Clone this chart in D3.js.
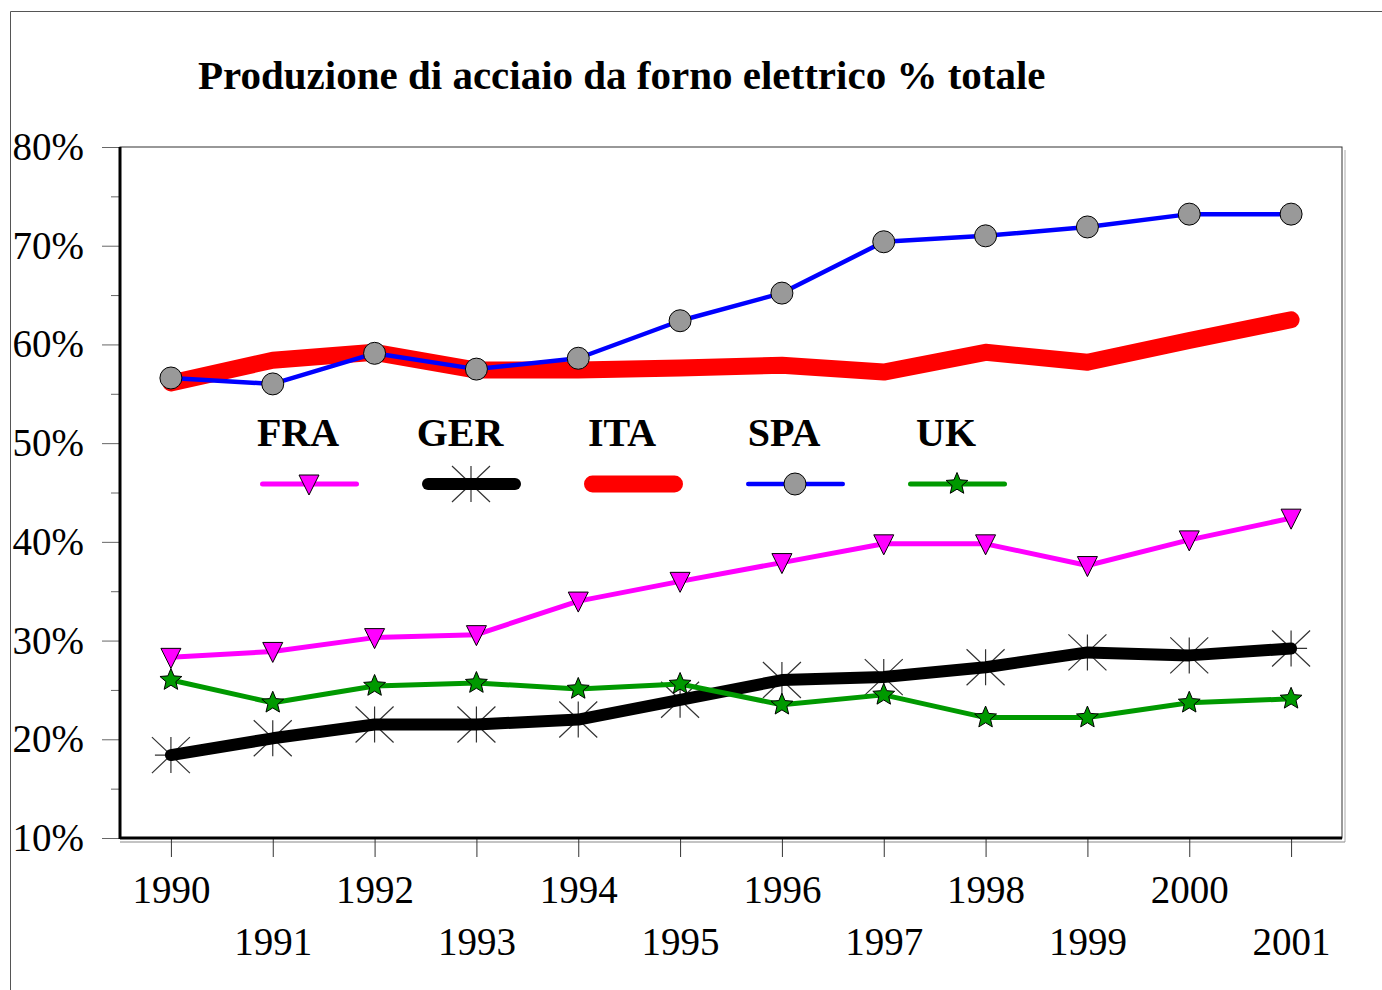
<!DOCTYPE html>
<html>
<head>
<meta charset="utf-8">
<script src="https://cdn.jsdelivr.net/npm/d3@7"></script>
<style>
  body { margin: 0; background: #fff; }
  svg { display: block; font-family: "Liberation Serif", "Times New Roman", serif; }
</style>
</head>
<body>
<svg id="chart" width="1382" height="990"></svg>
<script>
// dati
var anni = [1990, 1991, 1992, 1993, 1994, 1995, 1996, 1997, 1998, 1999, 2000, 2001]
var paesi = ["FRA", "GER", "ITA", "SPA", "UK"]
var fra = [28.3, 28.9, 30.3, 30.6, 34.0, 36.0, 37.9, 39.8, 39.8, 37.6, 40.2, 42.4]
var ger = [18.4, 20.1, 21.5, 21.5, 22.0, 24.0, 26.0, 26.3, 27.3, 28.8, 28.5, 29.2]
var ita = [56.1, 58.4, 59.2, 57.4, 57.4, 57.6, 57.9, 57.2, 59.2, 58.2, 60.4, 62.5]
var spa = [56.6, 56.0, 59.1, 57.5, 58.6, 62.4, 65.2, 70.4, 71.0, 71.9, 73.2, 73.2]
var uk  = [26.0, 23.7, 25.4, 25.7, 25.1, 25.6, 23.5, 24.5, 22.2, 22.2, 23.7, 24.1]
var y_ticks = [10, 20, 30, 40, 50, 60, 70, 80]
var y_minor = [15, 25, 35, 45, 55, 65, 75]
var titolo = "Produzione di acciaio da forno elettrico % totale"

var serie = [
    {nome: paesi[0], valori: fra, colore: "#ff00ff", spessore: 5, marker: "triangolo"},
    {nome: paesi[1], valori: ger, colore: "#000000", spessore: 12, marker: "asterisco"},
    {nome: paesi[2], valori: ita, colore: "#ff0000", spessore: 17, marker: null},
    {nome: paesi[3], valori: spa, colore: "#0000ff", spessore: 4.5, marker: "cerchio"},
    {nome: paesi[4], valori: uk,  colore: "#009900", spessore: 5, marker: "stella"}
]

var svg = d3.select("#chart")
var p_left = 120, p_right = 1342, p_top = 147, p_bottom = 838

var x = d3.scalePoint().domain(anni).range([p_left, p_right]).padding(0.5)
var y = d3.scaleLinear().domain([10, 80]).range([p_bottom, p_top])

// cornice esterna
svg.append("path").attr("d", "M10.5,990 V11.5 H1382")
    .attr("fill", "none").attr("stroke", "#555").attr("stroke-width", 1)

svg.append("text")
    .attr("x", 198).attr("y", 89)
    .attr("font-size", 41).attr("font-weight", "bold")
    .text(titolo)

// riquadro del grafico
svg.append("line").attr("x1", p_right + 3).attr("x2", p_right + 3).attr("y1", p_top + 3).attr("y2", p_bottom + 4)
    .attr("stroke", "#aaa").attr("stroke-width", 1)
svg.append("line").attr("x1", p_left).attr("x2", p_right + 3).attr("y1", p_bottom + 4).attr("y2", p_bottom + 4)
    .attr("stroke", "#888").attr("stroke-width", 1)
svg.append("rect").attr("x", p_left).attr("y", p_top).attr("width", p_right - p_left).attr("height", p_bottom - p_top)
    .attr("fill", "none").attr("stroke", "#333").attr("stroke-width", 1)

// asse y
var g_y = svg.append("g").attr("transform", "translate(" + p_left + ",0)")
g_y.call(d3.axisLeft(y).tickValues(y_ticks).tickSize(18).tickPadding(18).tickFormat(function(d){ return d + "%" }))
g_y.select(".domain").remove()
g_y.selectAll("line").attr("stroke", "#666")
g_y.selectAll("text").attr("font-size", 39).attr("font-family", "Liberation Serif, Times New Roman, serif").attr("fill", "#000")
var g_y2 = svg.append("g").attr("transform", "translate(" + p_left + ",0)")
g_y2.call(d3.axisLeft(y).tickValues(y_minor).tickSize(9).tickFormat(""))
g_y2.select(".domain").remove()
g_y2.selectAll("line").attr("stroke", "#666")
svg.append("line").attr("x1", p_left).attr("x2", p_left).attr("y1", p_top).attr("y2", p_bottom + 1)
    .attr("stroke", "#000").attr("stroke-width", 3)

// asse x
var g_x = svg.append("g").attr("transform", "translate(0," + p_bottom + ")")
g_x.call(d3.axisBottom(x).tickSize(19))
g_x.select(".domain").remove()
g_x.selectAll("line").attr("stroke", "#333")
g_x.selectAll("text")
    .attr("font-size", 39).attr("font-family", "Liberation Serif, Times New Roman, serif").attr("fill", "#000")
    .attr("y", function(d, i){ return i % 2 ? 89 : 37 }).attr("dy", "0.71em")
svg.append("line").attr("x1", p_left).attr("x2", p_right).attr("y1", p_bottom).attr("y2", p_bottom)
    .attr("stroke", "#000").attr("stroke-width", 3)

// marker
function stella(r) {
    var p = []
    for (var k = 0; k < 10; k++) {
        var a = -Math.PI / 2 + k * Math.PI / 5
        var rr = k % 2 ? r * 0.45 : r
        p.push([rr * Math.cos(a), rr * Math.sin(a)])
    }
    return "M" + p.join("L") + "Z"
}
function asterisco() {
    return "M0,-18V18M-16,0H16M-19,-18L19,18M19,-18L-19,18"
}

function draw_marker(g, tipo, cx, cy, colore) {
    if (tipo == "triangolo") {
        g.append("path").attr("d", "M-10,-9L10,-9L0,11Z")
            .attr("transform", "translate(" + cx + "," + cy + ")")
            .attr("fill", colore).attr("stroke", "#000").attr("stroke-width", 1)
    }
    if (tipo == "asterisco") {
        g.append("path").attr("d", asterisco())
            .attr("transform", "translate(" + cx + "," + cy + ")")
            .attr("fill", "none").attr("stroke", "#333").attr("stroke-width", 1.2)
    }
    if (tipo == "cerchio") {
        g.append("circle").attr("cx", cx).attr("cy", cy).attr("r", 11)
            .attr("fill", "#999").attr("stroke", "#000").attr("stroke-width", 1)
    }
    if (tipo == "stella") {
        g.append("path").attr("d", stella(11.5))
            .attr("transform", "translate(" + cx + "," + cy + ")")
            .attr("fill", colore).attr("stroke", "#000").attr("stroke-width", 1)
    }
}

var linea = d3.line()
    .x(function(d, i){ return x(anni[i]) })
    .y(function(d){ return y(d) })

var g_lines = svg.append("g")
serie.forEach(function(s) {
    var g_s = g_lines.append("g")
    if (s.marker == "asterisco") {
        s.valori.forEach(function(v, i){ draw_marker(g_s, s.marker, x(anni[i]), y(v), s.colore) })
    }
    g_s.append("path")
        .attr("d", linea(s.valori))
        .attr("fill", "none").attr("stroke", s.colore).attr("stroke-width", s.spessore)
        .attr("stroke-linecap", "round").attr("stroke-linejoin", "round")
    if (s.marker && s.marker != "asterisco") {
        s.valori.forEach(function(v, i){ draw_marker(g_s, s.marker, x(anni[i]), y(v), s.colore) })
    }
})

// legenda
var g_leg = svg.append("g")
serie.forEach(function(s, i) {
    var x0 = 260 + i * 162
    var cx = x0 + 49
    var half = s.spessore / 2
    g_leg.append("text")
        .attr("x", cx - 11).attr("y", 446)
        .attr("text-anchor", "middle")
        .attr("font-size", 40).attr("font-weight", "bold")
        .text(s.nome)
    if (s.marker == "asterisco") draw_marker(g_leg, s.marker, cx, 484, s.colore)
    g_leg.append("line")
        .attr("x1", x0 + half).attr("x2", x0 + 99 - half).attr("y1", 484).attr("y2", 484)
        .attr("stroke", s.colore).attr("stroke-width", s.spessore)
        .attr("stroke-linecap", "round")
    if (s.marker && s.marker != "asterisco") {
        draw_marker(g_leg, s.marker, cx, 484, s.colore)
    }
})
</script>
</body>
</html>
